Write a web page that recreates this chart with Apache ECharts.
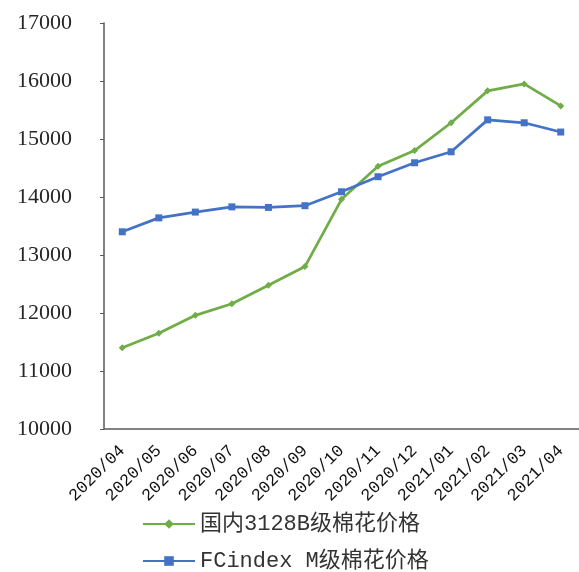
<!DOCTYPE html>
<html>
<head>
<meta charset="utf-8">
<script src="https://cdn.jsdelivr.net/npm/echarts@6/dist/echarts.min.js"></script>
<style>
	html, body { margin: 0; padding: 0; background: #fff; }
	#chart { width: 579px; height: 572px; }
</style>
</head>
<body>
<div id="chart"></div>
<script>
const months = [
	"2020/04", "2020/05", "2020/06", "2020/07", "2020/08", "2020/09", "2020/10",
	"2020/11", "2020/12", "2021/01", "2021/02", "2021/03", "2021/04",
];
const domesticName = "国内3128B级棉花价格";
const domesticPrice = [11400, 11650, 11960, 12160, 12480, 12800, 13960, 14530, 14800, 15280, 15830, 15950, 15570];
const fcindexName = "FCindex M级棉花价格";
const fcindexPrice = [13400, 13640, 13740, 13830, 13820, 13850, 14090, 14350, 14590, 14780, 15330, 15280, 15120];

const chart = echarts.init(document.getElementById("chart"), null, { renderer: "canvas" });

const options = {
	animation: false,
	grid: {
		left: 104,
		right: -6,
		top: 23,
		bottom: 143,
	},
	legend: {
		orient: "vertical",
		left: 137,
		top: 508,
		height: 90,
		itemWidth: 52,
		itemHeight: 12,
		itemGap: 15,
		textStyle: {
			fontFamily: "Liberation Mono, Noto Sans CJK SC",
			fontSize: 22,
			lineHeight: 22,
			color: "#333333",
		},
		data: [domesticName, fcindexName],
	},
	xAxis: {
		type: "category",
		data: months,
		axisLine: { lineStyle: { color: "#595959", width: 1.5 } },
		axisTick: { inside: true, length: 6, lineStyle: { color: "#595959" } },
		axisLabel: {
			rotate: 45,
			margin: 19,
			interval: 0,
			fontFamily: "Liberation Mono",
			fontSize: 17,
			color: "#111111",
		},
		splitLine: { show: false },
	},
	yAxis: {
		type: "value",
		min: 10000,
		max: 17000,
		interval: 1000,
		axisLine: { show: true, lineStyle: { color: "#595959", width: 1.5 } },
		axisTick: { show: true, length: 4, lineStyle: { color: "#595959" } },
		axisLabel: {
			margin: 32,
			fontFamily: "Liberation Serif",
			fontSize: 22,
			color: "#262626",
			formatter: (v) => String(v),
		},
		splitLine: { show: false },
	},
	series: [
		{
			name: domesticName,
			type: "line",
			data: domesticPrice,
			symbol: "diamond",
			symbolSize: 7,
			itemStyle: { color: "#70AD47" },
			lineStyle: { color: "#70AD47", width: 2.75 },
		},
		{
			name: fcindexName,
			type: "line",
			data: fcindexPrice,
			symbol: "rect",
			symbolSize: 7,
			itemStyle: { color: "#4472C4" },
			lineStyle: { color: "#4472C4", width: 2.75 },
		},
	],
};

chart.setOption(options);
</script>
</body>
</html>
